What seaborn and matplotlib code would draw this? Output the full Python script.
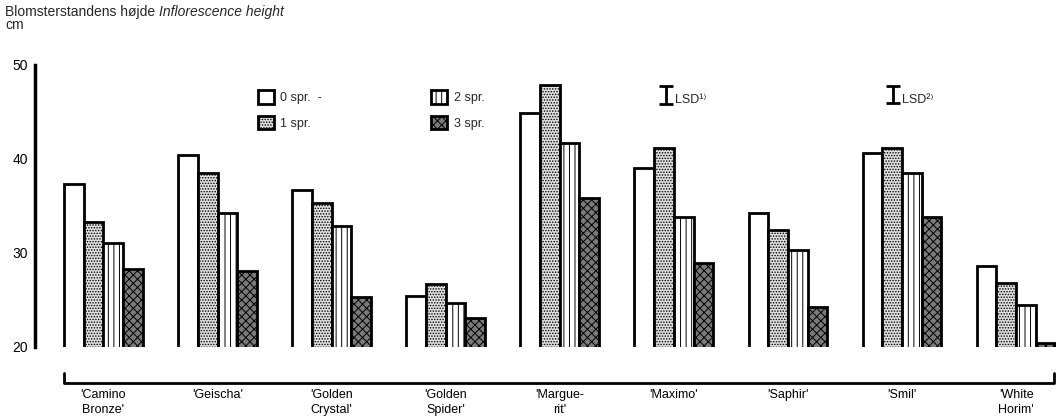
import pandas as pd
import matplotlib
matplotlib.use('Agg')
import matplotlib.pyplot as plt
import matplotlib.transforms as mtransforms
import seaborn as sns

# data (cm)
cultivars = ["'Camino\nBronze'", "'Geischa'", "'Golden\nCrystal'", "'Golden\nSpider'",
             "'Margue-\nrit'", "'Maximo'", "'Saphir'", "'Smil'", "'White\nHorim'"]
spr0 = [37.3, 40.4, 36.7, 25.4, 44.9, 39.0, 34.3, 40.6, 28.6]
spr1 = [33.3, 38.5, 35.3, 26.7, 47.9, 41.2, 32.4, 41.2, 26.8]
spr2 = [31.1, 34.3, 32.9, 24.7, 41.7, 33.8, 30.3, 38.5, 24.5]
spr3 = [28.3, 28.1, 25.3, 23.1, 35.9, 28.9, 24.3, 33.8, 20.4]
treatments = ['0 spr.  -', '1 spr.', '2 spr.', '3 spr.']
lsd_labels = ['LSD¹⁾', 'LSD²⁾']
lsd_values = [1.9, 1.8]

sns.set_theme(style='white')
plt.rcParams['font.family'] = ['Liberation Sans', 'DejaVu Sans']

rows = []
for vals, t in zip([spr0, spr1, spr2, spr3], treatments):
    for c, v in zip(cultivars, vals):
        rows.append({'cultivar': c, 'treatment': t, 'height': v})
df = pd.DataFrame(rows)

fig = plt.figure(figsize=(10.56, 4.19), dpi=100)
ax = fig.add_axes([35 / 1056, 72 / 419, 1021 / 1056, 282 / 419])

faces = ['white', '#e0e0e0', 'white', '#7a7a7a']
hatches = [None, '......', '|||', 'xxxx']
plt.rcParams['hatch.linewidth'] = 0.7
sns.barplot(data=df, x='cultivar', y='height', hue='treatment', palette=faces,
            width=0.69, gap=0, saturation=1, edgecolor='black', linewidth=2,
            legend=False, ax=ax)
for cont, h in zip(ax.containers, hatches):
    for p in cont.patches:
        p.set_hatch(h)
        p.set_edgecolor('black')

ax.set_xlim(-0.6, 8.35)
ax.set_ylim(20, 50)
ax.set_yticks([20, 30, 40, 50])
for s in ['top', 'right', 'bottom']:
    ax.spines[s].set_visible(False)
ax.spines['left'].set_linewidth(2.5)
ax.spines['left'].set_color('black')
ax.tick_params(axis='y', direction='in', length=6, width=2.5, labelsize=10, pad=5,
               colors='black')
ax.tick_params(axis='x', length=0, labelsize=9, pad=30, colors='black')
for lbl in ax.get_xticklabels():
    lbl.set_linespacing(1.35)
ax.set_xlabel('')
ax.set_ylabel('')

# bracket below the cultivars
tr = mtransforms.blended_transform_factory(ax.transData, ax.transAxes)
ax.plot([-0.346, -0.346, 8.33, 8.33], [-0.092, -0.128, -0.128, -0.092],
        color='black', lw=2, transform=tr, clip_on=False)

# LSD bars
for x, lab, v in zip([4.93, 6.92], lsd_labels, lsd_values):
    ax.errorbar(x, 47.8 - v / 2, yerr=v / 2, color='black', lw=2, capsize=5,
                capthick=2)
    ax.text(x + 0.08, 46.3, lab, fontsize=9, va='center', ha='left')

ax.legend(ax.containers, treatments, loc='upper left',
          bbox_to_anchor=(258 / 1056, 1 - 90 / 419), bbox_transform=fig.transFigure,
          ncol=2, frameon=False, fontsize=9, borderpad=0, borderaxespad=0,
          handlelength=1.3, handleheight=1.3, handletextpad=0.5,
          labelspacing=0.95, columnspacing=8.7)

t1 = fig.text(5 / 1056, 1 - 12 / 419, 'Blomsterstandens højde', fontsize=10,
              va='center', ha='left')
ax.annotate('Inflorescence height', xy=(1, 0), xycoords=t1, xytext=(3, 0),
            textcoords='offset points', fontsize=10, style='italic',
            va='bottom', ha='left')
fig.text(5 / 1056, 1 - 25 / 419, 'cm', fontsize=10, va='center', ha='left')

fig.savefig('out.png', dpi=100)
